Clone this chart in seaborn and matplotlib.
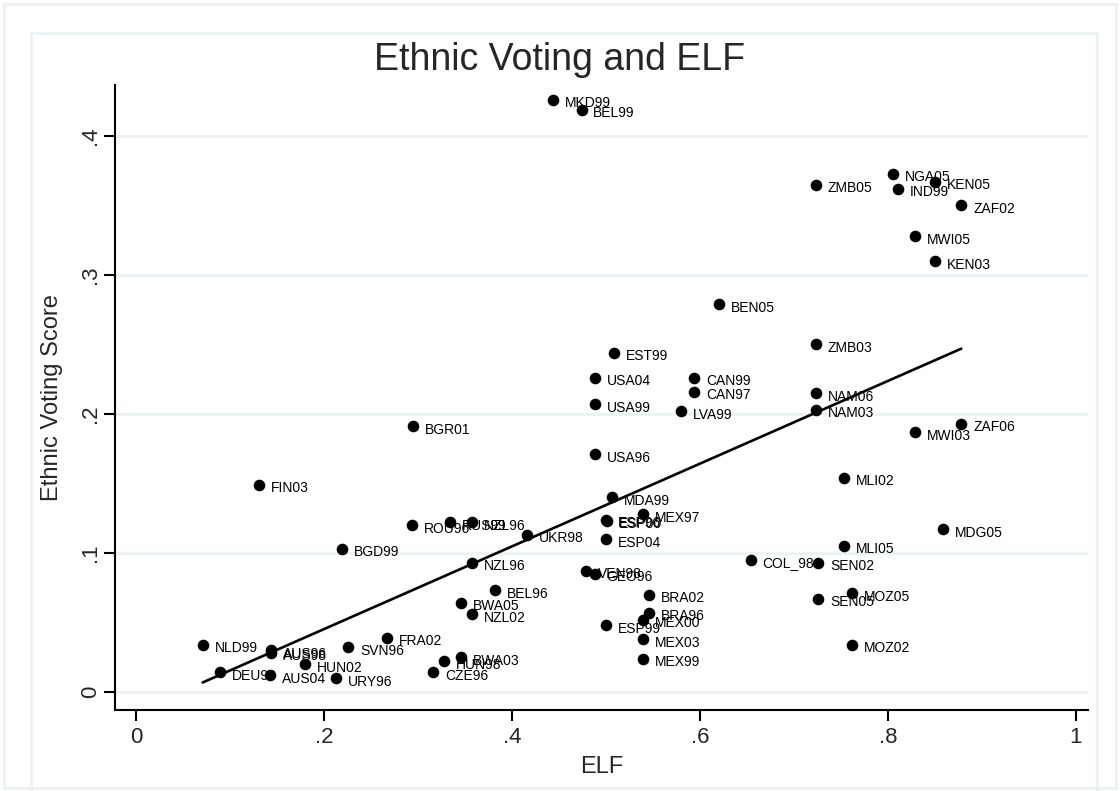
import numpy as np
import pandas as pd
import matplotlib
matplotlib.use("Agg")
import matplotlib.pyplot as plt
from matplotlib.patches import Rectangle
import seaborn as sns

# ------------ data ---------------------------------
labels = ["MKD99", "BEL99", "NGA05", "ZMB05", "IND99", "KEN05", "ZAF02", "MWI05", "KEN03",
          "BEN05", "ZMB03", "EST99", "USA04", "CAN99", "CAN97", "NAM06", "USA99", "LVA99",
          "NAM03", "BGR01", "ZAF06", "MWI03", "USA96", "MLI02", "FIN03", "MDA99", "MEX97",
          "ESP96", "ESP00", "ROU96", "RUS99", "NZL96", "UKR98", "MDG05", "ESP04", "MLI05",
          "BGD99", "COL_98", "SEN02", "NZL96", "VEN98", "GEO96", "BEL96", "BRA02", "MOZ05",
          "SEN05", "BWA05", "BRA96", "NZL02", "MEX00", "ESP99", "FRA02", "MEX03", "NLD99",
          "MOZ02", "SVN96", "AUS96", "AUS98", "BWA03", "MEX99", "HUN98", "HUN02", "DEU99",
          "CZE96", "AUS04", "URY96"]
elf = [0.444, 0.474, 0.805, 0.723, 0.811, 0.850, 0.878, 0.829, 0.850,
       0.620, 0.723, 0.509, 0.488, 0.594, 0.594, 0.723, 0.488, 0.580,
       0.723, 0.295, 0.878, 0.829, 0.488, 0.753, 0.131, 0.506, 0.539,
       0.500, 0.501, 0.294, 0.334, 0.358, 0.416, 0.859, 0.500, 0.753,
       0.219, 0.654, 0.726, 0.358, 0.479, 0.488, 0.382, 0.546, 0.762,
       0.726, 0.346, 0.546, 0.358, 0.539, 0.500, 0.267, 0.539, 0.071,
       0.762, 0.226, 0.144, 0.144, 0.346, 0.539, 0.328, 0.180, 0.089,
       0.316, 0.143, 0.213]
score = [0.426, 0.419, 0.373, 0.365, 0.362, 0.367, 0.350, 0.328, 0.310,
         0.279, 0.250, 0.244, 0.226, 0.226, 0.216, 0.215, 0.207, 0.202,
         0.203, 0.191, 0.193, 0.187, 0.171, 0.154, 0.149, 0.140, 0.128,
         0.124, 0.123, 0.120, 0.122, 0.122, 0.113, 0.117, 0.110, 0.105,
         0.103, 0.095, 0.093, 0.093, 0.087, 0.085, 0.073, 0.070, 0.071,
         0.067, 0.064, 0.057, 0.056, 0.052, 0.048, 0.039, 0.038, 0.034,
         0.034, 0.032, 0.030, 0.028, 0.025, 0.024, 0.022, 0.020, 0.014,
         0.014, 0.012, 0.010]

# fitted line as drawn in the chart (ends at the data range)
fit_x = [0.071, 0.878]
fit_y = [0.0068, 0.247]

df = pd.DataFrame({"label": labels, "ELF": elf, "score": score})
fit = pd.DataFrame({"ELF": fit_x, "score": fit_y})

xticks = [0, 0.2, 0.4, 0.6, 0.8, 1.0]
xtick_labels = ["0", ".2", ".4", ".6", ".8", "1"]
yticks = [0, 0.1, 0.2, 0.3, 0.4]
ytick_labels = ["0", ".1", ".2", ".3", ".4"]

# ------------ style --------------
sns.set_style("white")
plt.rcParams["font.family"] = ["Liberation Sans", "DejaVu Sans"]
grid_col = "#eaf2f3"

fig = plt.figure(figsize=(11.2, 7.91), dpi=100)
fig.patch.set_facecolor("white")

# outer and inner frames (graph region / plot region)
fig.add_artist(Rectangle((4 / 1120, 3 / 791), 1112 / 1120, 784 / 791, transform=fig.transFigure,
                         fill=False, edgecolor=grid_col, lw=2))
fig.add_artist(Rectangle((31 / 1120, -10 / 791), 1066 / 1120, 768 / 791, transform=fig.transFigure,
                         fill=False, edgecolor=grid_col, lw=2))

ax = fig.add_axes([115 / 1120, 1 - 710 / 791, (1088 - 115) / 1120, (710 - 85) / 791])

for yv in yticks:
    ax.axhline(yv, color=grid_col, lw=2, zorder=0)

sns.lineplot(data=fit, x="ELF", y="score", ax=ax, color="black", lw=1.9, zorder=2)
sns.scatterplot(data=df, x="ELF", y="score", ax=ax, color="black", s=70,
                edgecolor="black", linewidth=0, zorder=3)

for lab, xv, yv in zip(df["label"], df["ELF"], df["score"]):
    ax.annotate(lab, (xv, yv), xytext=(8.5, -2.5), textcoords="offset points",
                fontsize=10, va="center", ha="left", color="black")

ax.set_xlim(-0.0223, 1.0128)
ax.set_ylim(-0.013, 0.4367)
ax.set_xticks(xticks)
ax.set_xticklabels(xtick_labels)
ax.set_yticks(yticks)
ax.set_yticklabels(ytick_labels, rotation=90, va="center")
ax.tick_params(axis="both", direction="out", length=8, width=1.5, labelsize=16,
               color="black", pad=4, bottom=True, left=True)
ax.tick_params(axis="y", pad=2)

for side in ["top", "right"]:
    ax.spines[side].set_visible(False)
for side in ["left", "bottom"]:
    ax.spines[side].set_color("black")
    ax.spines[side].set_linewidth(1.5)

ax.set_xlabel("ELF", fontsize=17, labelpad=6)
ax.set_ylabel("Ethnic Voting Score", fontsize=17, labelpad=12)
fig.text(0.5, 1 - 60 / 791, "Ethnic Voting and ELF", ha="center", va="center", fontsize=27)

fig.savefig("out.png", dpi=100, facecolor="white")
